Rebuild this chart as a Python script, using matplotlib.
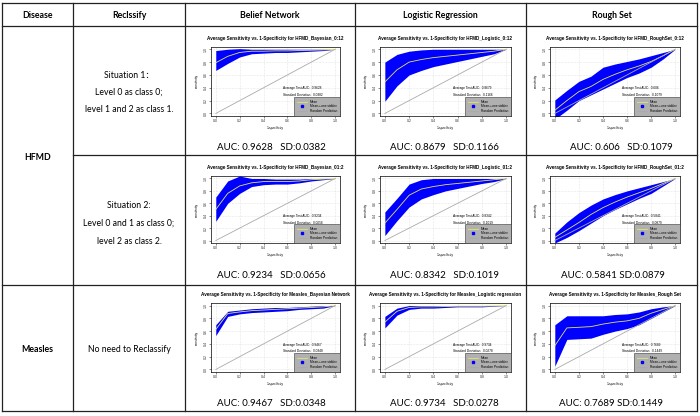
import matplotlib
matplotlib.use('Agg')
import matplotlib.pyplot as plt
from matplotlib.lines import Line2D

# table text
headers = ['Disease', 'Reclssify', 'Belief Network', 'Logistic Regression', 'Rough Set']
situation1 = ['Situation 1\uff1a', 'Level 0 as class 0;', 'level 1 and 2 as class 1.']
situation2 = ['Situation 2:', 'Level 0 and 1 as class 0;', 'level 2 as class 2.']

# false positive rate grid of the curves
fpr = [0.0, 0.1, 0.2, 0.3, 0.4, 0.5, 0.6, 0.7, 0.8, 0.9, 1.0]

names = ['HFMD_Bayesian_0:12', 'HFMD_Logistic_0:12', 'HFMD_RoughSet_0:12',
         'HFMD_Bayesian_01:2', 'HFMD_Logistic_01:2', 'HFMD_RoughSet_01:2',
         'Measles_Bayesian Network', 'Measles_Logistic regression', 'Measles_Rough Set']
auc = ['0.9628', '0.8679', '0.606', '0.9234', '0.8342', '0.5841', '0.9467', '0.9734', '0.7689']
sd = ['0.0382', '0.1166', '0.1079', '0.0656', '0.1019', '0.0879', '0.0348', '0.0278', '0.1449']
captions = ['AUC: 0.9628   SD:0.0382', 'AUC: 0.8679   SD:0.1166', 'AUC: 0.606   SD:0.1079',
            'AUC: 0.9234   SD:0.0656', 'AUC: 0.8342   SD:0.1019', 'AUC: 0.5841 SD:0.0879',
            'AUC: 0.9467   SD:0.0348', 'AUC: 0.9734   SD:0.0278', 'AUC: 0.7689 SD:0.1449']

mean = [
    [0.79, 0.89, 0.95, 0.97, 0.97, 0.975, 0.975, 0.98, 0.985, 0.99, 1.0],
    [0.49, 0.68, 0.80, 0.84, 0.87, 0.89, 0.91, 0.93, 0.95, 0.97, 1.0],
    [0.05, 0.20, 0.34, 0.42, 0.53, 0.61, 0.68, 0.74, 0.81, 0.90, 1.0],
    [0.50, 0.76, 0.88, 0.93, 0.95, 0.95, 0.95, 0.96, 0.98, 0.99, 1.0],
    [0.28, 0.50, 0.73, 0.83, 0.87, 0.90, 0.92, 0.94, 0.96, 0.98, 1.0],
    [0.05, 0.17, 0.29, 0.42, 0.53, 0.62, 0.70, 0.77, 0.84, 0.92, 1.0],
    [0.625, 0.875, 0.90, 0.92, 0.93, 0.94, 0.95, 0.96, 0.97, 0.98, 1.0],
    [0.74, 0.91, 0.97, 0.98, 0.98, 0.985, 0.99, 0.99, 0.99, 0.995, 1.0],
    [0.37, 0.65, 0.66, 0.67, 0.71, 0.74, 0.76, 0.80, 0.88, 0.94, 1.0],
]
upper = [
    [0.98, 1.0, 1.01, 1.0, 1.0, 1.0, 1.0, 1.0, 1.0, 1.0, 1.0],
    [0.80, 0.92, 0.97, 0.99, 1.0, 1.0, 1.0, 1.0, 1.0, 1.0, 1.0],
    [0.21, 0.36, 0.50, 0.58, 0.72, 0.77, 0.81, 0.85, 0.90, 0.95, 1.0],
    [0.70, 0.96, 1.04, 1.0, 1.0, 0.99, 0.99, 0.99, 1.0, 1.0, 1.0],
    [0.46, 0.68, 0.91, 0.98, 1.0, 1.0, 1.0, 1.0, 1.0, 1.0, 1.0],
    [0.12, 0.30, 0.45, 0.57, 0.67, 0.74, 0.80, 0.85, 0.90, 0.95, 1.0],
    [0.70, 0.91, 0.93, 0.95, 0.96, 0.97, 0.97, 0.98, 0.99, 1.0, 1.0],
    [0.83, 0.96, 1.0, 1.0, 1.0, 1.0, 1.0, 1.0, 1.0, 1.0, 1.0],
    [0.70, 0.84, 0.84, 0.84, 0.84, 0.86, 0.87, 0.90, 0.95, 0.98, 1.0],
]
lower = [
    [0.67, 0.78, 0.88, 0.93, 0.94, 0.95, 0.95, 0.96, 0.97, 0.98, 1.0],
    [0.19, 0.43, 0.60, 0.67, 0.73, 0.77, 0.81, 0.85, 0.89, 0.93, 1.0],
    [-0.09, 0.05, 0.20, 0.29, 0.38, 0.47, 0.56, 0.63, 0.72, 0.85, 1.0],
    [0.31, 0.60, 0.76, 0.87, 0.90, 0.91, 0.91, 0.93, 0.96, 0.98, 1.0],
    [0.08, 0.32, 0.54, 0.67, 0.74, 0.80, 0.84, 0.88, 0.92, 0.95, 1.0],
    [-0.04, 0.05, 0.16, 0.28, 0.40, 0.50, 0.59, 0.68, 0.76, 0.88, 1.0],
    [0.53, 0.83, 0.87, 0.89, 0.90, 0.91, 0.92, 0.94, 0.95, 0.96, 1.0],
    [0.65, 0.85, 0.94, 0.96, 0.96, 0.97, 0.98, 0.98, 0.98, 0.99, 1.0],
    [0.05, 0.47, 0.48, 0.49, 0.55, 0.60, 0.64, 0.70, 0.80, 0.90, 1.0],
]

W, H = 700, 416
fig = plt.figure(figsize=(7, 4.16), dpi=100)

# background axes in pixel units for the table
bg = fig.add_axes([0, 0, 1, 1])
bg.set_xlim(0, W)
bg.set_ylim(H, 0)
bg.axis('off')

lc = '#222222'
for y in [3, 26, 285, 411]:
    bg.plot([2, 697], [y, y], color=lc, lw=0.9)
bg.plot([73, 697], [155, 155], color=lc, lw=0.9)
for x in [2, 73, 185, 355, 526, 697]:
    bg.plot([x, x], [3, 411], color=lc, lw=0.9)

font = 'Lato'
for txt, x in zip(headers, [37.5, 129, 270, 440.5, 611.5]):
    bg.text(x, 15, txt, ha='center', va='center', fontsize=6.3, fontweight='bold', family=font)

bg.text(37.5, 157, 'HFMD', ha='center', va='center', fontsize=6.3, fontweight='bold', family=font)
bg.text(37.5, 349, 'Measles', ha='center', va='center', fontsize=6.3, fontweight='bold', family=font)
bg.text(129, 349, 'No need to Reclassify', ha='center', va='center', fontsize=6.2, family=font)
for i, t in enumerate(situation1):
    bg.text(129, 75 + i * 17.5, t, ha='center', va='center', fontsize=6.2,
            family=[font, 'Noto Sans CJK SC'])
for i, t in enumerate(situation2):
    bg.text(129, 206 + i * 17.5, t, ha='center', va='center', fontsize=6.2, family=font)

# plot boxes in pixels
cols = [(211, 340), (380, 511), (550, 680)]
rows = [(46.7, 116), (176, 243), (303, 372)]
cap_x = [[271, 444, 621], [271, 444, 613], [271, 444, 611]]
cap_y = [147, 276, 404]

rf = 'Liberation Sans'
for k in range(9):
    r, c = divmod(k, 3)
    x0, x1 = cols[c]
    y0, y1 = rows[r]
    ax = fig.add_axes([x0 / W, 1 - y1 / H, (x1 - x0) / W, (y1 - y0) / H])
    ax.set_xlim(-0.04, 1.04)
    ax.set_ylim(-0.04, 1.04)
    ax.grid(color='#d0d0d0', ls=':', lw=0.4)
    ax.set_axisbelow(True)
    ax.fill_between(fpr, lower[k], upper[k], color='#0000ff', lw=0, zorder=2)
    ax.plot(fpr, mean[k], color='#e4e46a', lw=0.6, zorder=3)
    ax.plot([0, 1], [0, 1], color='#aaaaaa', lw=0.6, zorder=3)
    ax.text(0.56, 0.39, 'Average Test AUC:  ' + auc[k], fontsize=2.3, family=rf, va='center')
    ax.text(0.56, 0.29, 'Standard Deviation:  ' + sd[k], fontsize=2.3, family=rf, va='center')
    handles = [Line2D([], [], color='#e4e46a', lw=0.6),
               Line2D([], [], color='#0000ff', marker='s', ls='none', markersize=1.6),
               Line2D([], [], color='#aaaaaa', lw=0.6)]
    leg = ax.legend(handles, ['Mean', 'Mean+-one stddev', 'Random Prediction'],
                    loc='lower right', borderaxespad=0, fancybox=False,
                    facecolor='#b0b0b0', edgecolor='#333333', framealpha=1,
                    prop={'family': rf, 'size': 2.3}, handlelength=3,
                    borderpad=0.9, labelspacing=0.2, handletextpad=1.0)
    leg.get_frame().set_linewidth(0.4)
    ax.set_xticks([0, 0.2, 0.4, 0.6, 0.8, 1.0])
    ax.set_yticks([0, 0.2, 0.4, 0.6, 0.8, 1.0])
    ax.set_xticklabels(['0.0', '0.2', '0.4', '0.6', '0.8', '1.0'], family=rf)
    ax.set_yticklabels(['0.0', '0.2', '0.4', '0.6', '0.8', '1.0'], family=rf,
                       rotation=90, va='center')
    ax.tick_params(length=1.5, width=0.4, labelsize=2.5, pad=1, colors='#333333')
    for s in ax.spines.values():
        s.set_linewidth(0.5)
    ax.set_xlabel('1-specificity', fontsize=2.3, family=rf, labelpad=2)
    ax.set_ylabel('sensitivity', fontsize=2.3, family=rf, labelpad=3)
    ax.set_title('Average Sensitivity vs. 1-Specificity for ' + names[k],
                 fontsize=3.3, fontweight='bold', family=rf, pad=5)
    bg.text(cap_x[r][c], cap_y[r], captions[k], ha='center', va='center',
            fontsize=7.0, family=font)

plt.savefig('out.png', dpi=100)
